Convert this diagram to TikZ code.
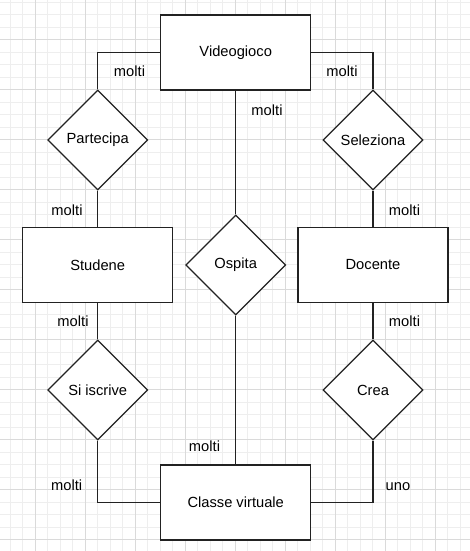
\documentclass[tikz,border=0pt]{standalone}
\usepackage{fontspec}
\setmainfont{Liberation Sans}
\usetikzlibrary{shapes.geometric}
\definecolor{gminor}{HTML}{EEEEEE}
\definecolor{gmajor}{HTML}{DADADA}
\definecolor{ink}{HTML}{222222}
\begin{document}
\begin{tikzpicture}[x=1pt,y=-1pt,
  minorline/.style={draw=gminor,line width=0.9pt},
  majorline/.style={draw=gmajor,line width=0.9pt},
  entity/.style={draw=ink,fill=white,line width=1.3pt,rectangle,minimum width=150pt,minimum height=75pt,inner sep=0pt,font=\fontsize{14.7}{17}\selectfont},
  relation/.style={draw=ink,fill=white,line width=1.3pt,diamond,aspect=1,minimum width=100pt,minimum height=100pt,inner sep=0pt,font=\fontsize{14.7}{17}\selectfont},
  conn/.style={draw=ink,line width=1.3pt},
  lbl/.style={anchor=base,inner sep=0pt,font=\fontsize{14.7}{17}\selectfont}]
\useasboundingbox (0,0) rectangle (470,551);
\fill[white] (0,0) rectangle (470,551);
% grid
\foreach \x in {10,22.5,...,470} \draw[minorline] (\x,0) -- (\x,551);
\foreach \y in {2,14.5,...,551} \draw[minorline] (0,\y) -- (470,\y);
\foreach \x in {35,85,...,470} \draw[majorline] (\x,0) -- (\x,551);
\foreach \y in {39.5,89.5,...,551} \draw[majorline] (0,\y) -- (470,\y);
% connectors
\coordinate (c1) at (0,0);
% nodes
\node[entity] (vg) at (235.7,52.5) {Videogioco};
\node[relation] (part) at (97.7,140) {Partecipa};
\node[relation] (sel) at (373,140) {Seleziona};
\node[entity] (stud) at (97.7,265) {Studene};
\node[relation] (osp) at (235.7,265) {Ospita};
\node[entity] (doc) at (373,265) {Docente};
\node[relation] (isc) at (97.7,390) {Si iscrive};
\node[relation] (crea) at (373,390) {Crea};
\node[entity] (cv) at (235.7,502.5) {Classe virtuale};
% edges
\draw[conn] (vg.west) -| (part.north);
\draw[conn] (vg.east) -| (sel.north);
\draw[conn] (vg.south) -- (osp.north);
\draw[conn] (part.south) -- (stud.north);
\draw[conn] (sel.south) -- (doc.north);
\draw[conn] (stud.south) -- (isc.north);
\draw[conn] (doc.south) -- (crea.north);
\draw[conn] (isc.south) |- (cv.west);
\draw[conn] (crea.south) |- (cv.east);
\draw[conn] (osp.south) -- (cv.north);
% labels
\node[lbl] (l1) at (129.5,76.7) {molti};
\node[lbl] (l2) at (342,76.7) {molti};
\node[lbl] (l3) at (267,115) {molti};
\node[lbl] (l4) at (67,215) {molti};
\node[lbl] (l5) at (73,326.7) {molti};
\node[lbl] (l6) at (404.5,215) {molti};
\node[lbl] (l7) at (404.5,326.7) {molti};
\node[lbl] (l8) at (66.7,490) {molti};
\node[lbl] (l9) at (204.5,451.7) {molti};
\node[lbl] (l10) at (398,490) {uno};
\end{tikzpicture}
\end{document}
